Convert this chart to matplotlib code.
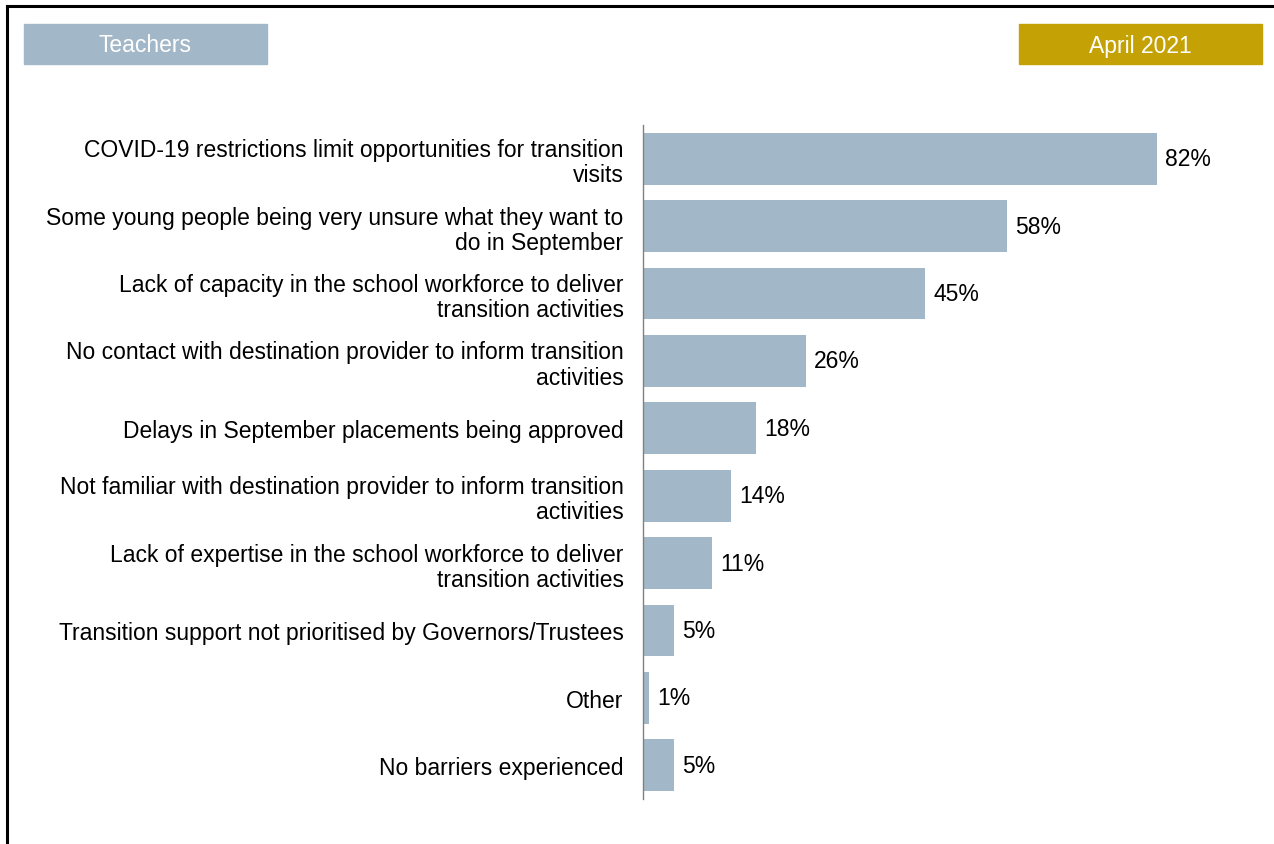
import matplotlib.pyplot as plt
from matplotlib.patches import Rectangle

plt.rcParams['font.family'] = ['Liberation Sans', 'DejaVu Sans']

labels = [
    "COVID-19 restrictions limit opportunities for transition\nvisits",
    "Some young people being very unsure what they want to\ndo in September",
    "Lack of capacity in the school workforce to deliver\ntransition activities",
    "No contact with destination provider to inform transition\nactivities",
    "Delays in September placements being approved",
    "Not familiar with destination provider to inform transition\nactivities",
    "Lack of expertise in the school workforce to deliver\ntransition activities",
    "Transition support not prioritised by Governors/Trustees",
    "Other",
    "No barriers experienced",
]
values = [82, 58, 45, 26, 18, 14, 11, 5, 1, 5]

bar_color = '#A2B8C8'
gold = '#C4A205'

fig = plt.figure(figsize=(12.74, 8.45), dpi=100)
ax = fig.add_axes([643/1274, 1 - 800/845, 1 - 643/1274 - 0.003, (800 - 126)/845])

ypos = list(range(len(values)))
ax.barh(ypos, values, height=0.77, color=bar_color)
for y, v in zip(ypos, values):
    ax.text(v + 1.3, y, f"{v}%", va='center', ha='left', fontsize=16.5)

ax.set_xlim(0, 100)
ax.set_ylim(len(values) - 0.5, -0.5)
ax.set_yticks(ypos)
ax.set_yticklabels(labels, fontsize=16.5, linespacing=1.12)
ax.tick_params(axis='y', length=0, pad=14)
ax.set_xticks([])
for s in ['top', 'right', 'bottom']:
    ax.spines[s].set_visible(False)
ax.spines['left'].set_color('#808080')
ax.spines['left'].set_linewidth(1)

# header boxes
W, H = 1274, 845
fig.patches.append(Rectangle((24/W, 1 - 65/H), 243/W, 40/H, transform=fig.transFigure,
                             color=bar_color, zorder=0))
fig.text(145/W, 1 - 46/H, "Teachers", color='white', fontsize=16.5, ha='center', va='center')
fig.patches.append(Rectangle((1019/W, 1 - 65/H), 243/W, 40/H, transform=fig.transFigure,
                             color=gold, zorder=0))
fig.text(1140/W, 1 - 46/H, "April 2021", color='white', fontsize=16.5, ha='center', va='center')

# frame lines (top and left)
fig.add_artist(plt.Line2D([7/W, 1], [1 - 7/H, 1 - 7/H], color='black', linewidth=2.2,
                          transform=fig.transFigure))
fig.add_artist(plt.Line2D([7/W, 7/W], [1 - 7/H, 0], color='black', linewidth=2.2,
                          transform=fig.transFigure))

fig.savefig('out.png', dpi=100)
